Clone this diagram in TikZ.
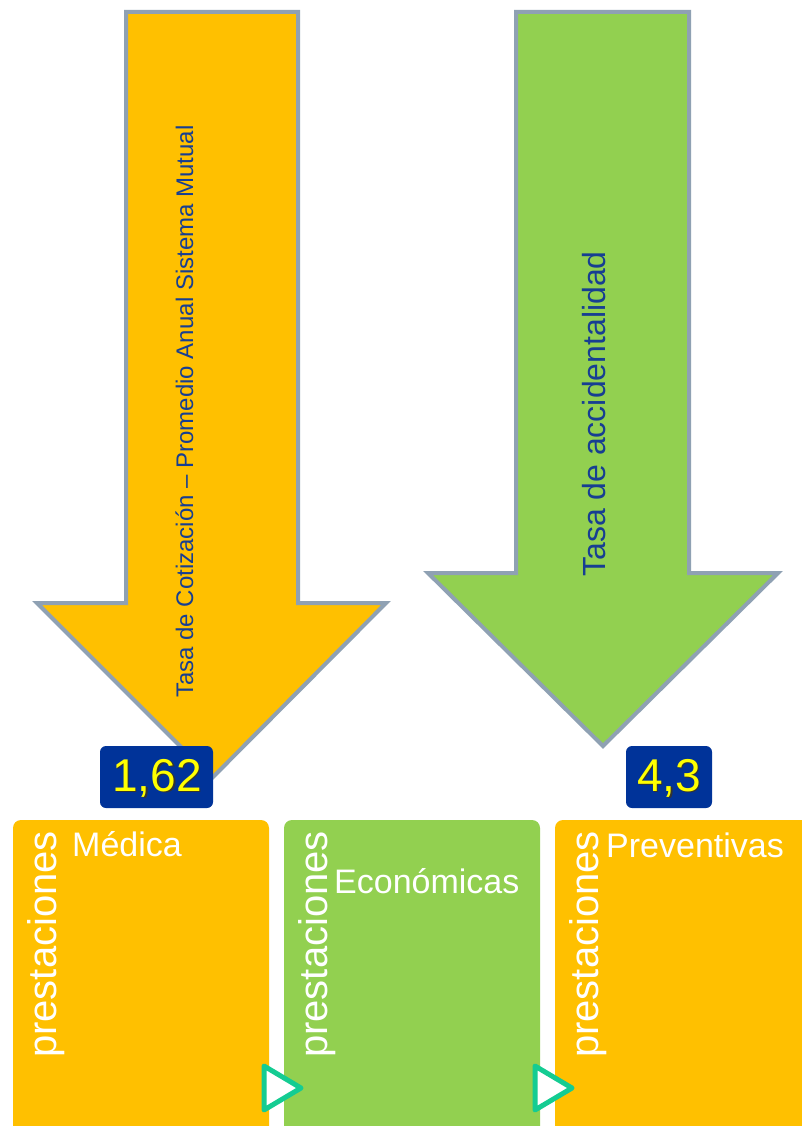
\documentclass[tikz,border=0pt]{standalone}
\usepackage{fontspec}
\setmainfont{Liberation Sans}
\definecolor{orangefill}{HTML}{FFC000}
\definecolor{greenfill}{HTML}{92D050}
\definecolor{arrowline}{HTML}{8FA1B3}
\definecolor{navy}{HTML}{003399}
\definecolor{textblue}{HTML}{173E92}
\definecolor{teal}{HTML}{14CC92}
\definecolor{yel}{HTML}{FFFF00}
\tikzset{
  bigarrow/.style={draw=arrowline, line width=4pt, line join=miter},
  valbox/.style={fill=navy, rounded corners=6pt},
  valtext/.style={text=yel, inner sep=0pt, font=\fontsize{46}{50}\selectfont},
  valshadow/.style={text=black!80, inner sep=0pt, font=\fontsize{46}{50}\selectfont},
  panel/.style={rounded corners=8pt},
  vlabel/.style={text=white, rotate=90, anchor=base west, inner sep=0pt, font=\fontsize{40}{44}\selectfont},
  hlabel/.style={text=white, anchor=base west, inner sep=0pt, font=\fontsize{34}{38}\selectfont},
  playtri/.style={draw=teal, fill=white, line width=5pt, line join=round},
}
\begin{document}
\begin{tikzpicture}[x=1pt,y=-1pt]
\clip (0,0) rectangle (802,1126);
\fill[white] (0,0) rectangle (802,1126);
% orange arrow
\path[bigarrow, fill=orangefill] (126,12) -- (298,12) -- (298,603) -- (386,603) -- (212,778) -- (37,603) -- (126,603) -- cycle;
% green arrow
\path[bigarrow, fill=greenfill] (516,12) -- (689,12) -- (689,573) -- (778,573) -- (603,746) -- (428,573) -- (516,573) -- cycle;
\node[text=textblue, rotate=90, anchor=base west, inner sep=0pt, font=\fontsize{24}{28}\selectfont] (t1) at (193,698) {Tasa de Cotización – Promedio Anual Sistema Mutual};
\node[text=textblue, rotate=90, anchor=base west, inner sep=0pt, font=\fontsize{32}{36}\selectfont] (t2) at (605,577) {Tasa de accidentalidad};
% value boxes
\path[valbox] (100,746) rectangle (213,808);
\node[valshadow] (v1s) at (158.5,779.5) {1,62};
\node[valtext] (v1) at (157,778) {1,62};
\path[valbox] (626,746) rectangle (712,808);
\node[valshadow] (v2s) at (670.5,779.5) {4,3};
\node[valtext] (v2) at (669,778) {4,3};
% panels
\path[panel, fill=orangefill] (13,820) rectangle (269,1150);
\path[panel, fill=greenfill] (284,820) rectangle (540,1150);
\path[panel, fill=orangefill] (555,820) rectangle (830,1150);
\node[vlabel] (p1) at (56,1058) {prestaciones};
\node[vlabel] (p2) at (327,1058) {prestaciones};
\node[vlabel] (p3) at (598,1058) {prestaciones};
\node[hlabel] (h1) at (72,856) {Médica};
\node[hlabel] (h2) at (334,893) {Económicas};
\node[hlabel] (h3) at (606,857) {Preventivas};
% play triangles
\path[playtri] (264,1066) -- (301,1088) -- (264,1110) -- cycle;
\path[playtri] (535,1066) -- (572,1088) -- (535,1110) -- cycle;
\end{tikzpicture}
\end{document}
